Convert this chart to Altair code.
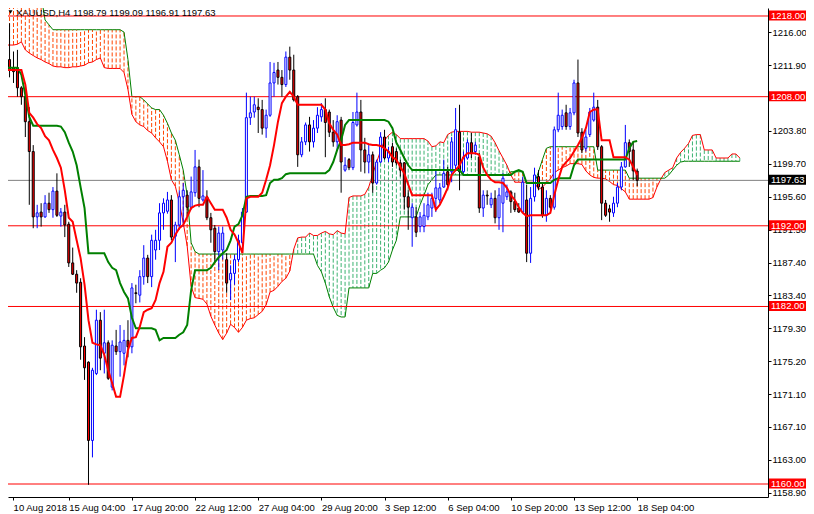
import altair as alt
import pandas as pd

FONT = "Liberation Sans"

# ---------------- data ----------------
opens = [1208.0, 1212.6, 1211.6, 1211.6, 1209.1, 1208.0, 1204.9, 1201.2, 1193.1, 1193.7,
         1193.1, 1194.8, 1194.0, 1196.3, 1193.2, 1193.7, 1192.2, 1187.4, 1186.0, 1185.0,
         1177.1, 1175.1, 1165.4, 1173.7, 1180.3, 1176.2, 1177.5, 1172.0, 1177.1, 1176.4,
         1176.2, 1177.8, 1177.0, 1183.7, 1183.4, 1185.7, 1188.0, 1185.7, 1189.0, 1190.2,
         1193.6, 1193.8, 1195.2, 1190.7, 1192.1, 1195.6, 1195.8, 1194.3, 1196.1, 1199.3,
         1195.2, 1195.6, 1193.0, 1191.7, 1188.8, 1189.0, 1187.8, 1185.3, 1186.1, 1187.8,
         1189.9, 1193.7, 1205.4, 1206.1, 1206.7, 1206.4, 1204.1, 1205.7, 1209.7, 1211.3,
         1210.4, 1209.5, 1212.9, 1211.3, 1208.0, 1200.8, 1202.4, 1204.5, 1202.4, 1204.1,
         1205.5, 1206.4, 1206.1, 1203.6, 1202.4, 1205.1, 1198.9, 1200.2, 1199.2, 1204.5,
         1206.1, 1201.4, 1199.9, 1200.8, 1197.3, 1199.9, 1203.0, 1200.4, 1201.8, 1201.2,
         1199.8, 1199.8, 1195.6, 1193.0, 1193.1, 1191.9, 1191.9, 1193.1, 1194.2, 1195.4,
         1195.2, 1196.8, 1198.7, 1198.7, 1199.5, 1203.6, 1198.7, 1200.4, 1202.3, 1201.2,
         1200.5, 1194.2, 1195.8, 1194.6, 1195.4, 1193.0, 1194.8, 1195.6, 1196.2, 1195.0,
         1194.2, 1193.7, 1195.2, 1188.6, 1195.6, 1198.1, 1196.8, 1193.3, 1195.4, 1194.3,
         1203.9, 1204.3, 1206.0, 1204.3, 1206.0, 1209.7, 1203.6, 1201.6, 1203.3, 1205.1,
         1206.7, 1201.8, 1194.8, 1194.1, 1193.6, 1194.8, 1196.8, 1199.3, 1202.3, 1201.4,
         1198.79]
highs = [1214.4, 1217.1, 1213.6, 1213.8, 1209.3, 1209.1, 1206.7, 1202.0, 1194.6, 1194.8,
         1195.8, 1196.1, 1196.8, 1198.5, 1194.2, 1194.6, 1192.5, 1189.3, 1186.5, 1185.5,
         1178.2, 1175.2, 1174.4, 1181.6, 1181.3, 1181.6, 1177.8, 1177.8, 1179.1, 1179.7,
         1179.1, 1180.3, 1184.9, 1184.7, 1186.5, 1189.6, 1188.4, 1190.9, 1191.5, 1194.8,
         1195.4, 1196.2, 1195.8, 1192.5, 1196.4, 1197.3, 1196.4, 1198.1, 1201.4, 1200.2,
         1198.9, 1196.4, 1193.6, 1192.1, 1191.9, 1191.9, 1188.6, 1187.1, 1188.4, 1190.9,
         1194.2, 1208.5, 1208.0, 1208.0, 1207.8, 1207.6, 1206.4, 1212.3, 1212.2, 1212.3,
         1211.3, 1213.6, 1214.2, 1213.2, 1208.2, 1203.0, 1204.8, 1205.5, 1205.1, 1206.7,
         1207.2, 1207.8, 1206.4, 1205.1, 1205.7, 1205.5, 1200.5, 1200.4, 1206.1, 1208.5,
         1207.6, 1202.9, 1202.0, 1201.2, 1200.2, 1203.6, 1203.9, 1201.8, 1202.3, 1201.6,
         1200.2, 1199.9, 1196.4, 1194.8, 1194.3, 1193.7, 1194.8, 1196.1, 1196.1, 1198.9,
         1197.3, 1200.2, 1199.3, 1203.0, 1206.6, 1207.0, 1201.2, 1202.7, 1203.5, 1202.4,
         1201.0, 1196.4, 1196.4, 1196.1, 1196.4, 1196.7, 1198.5, 1197.1, 1196.4, 1196.1,
         1194.8, 1198.1, 1197.1, 1196.8, 1199.2, 1198.9, 1197.3, 1196.4, 1195.8, 1204.3,
         1208.5, 1206.4, 1207.0, 1206.6, 1210.1, 1212.6, 1204.1, 1203.9, 1206.6, 1208.5,
         1207.6, 1202.0, 1195.2, 1194.6, 1195.6, 1197.3, 1199.9, 1204.5, 1202.7, 1202.4,
         1199.09]
lows = [1207.6, 1210.4, 1209.7, 1208.0, 1207.0, 1203.0, 1194.6, 1191.7, 1191.7, 1191.9,
        1193.0, 1193.6, 1193.0, 1193.1, 1191.9, 1190.6, 1186.9, 1185.9, 1183.7, 1175.4,
        1172.9, 1159.9, 1163.3, 1173.5, 1174.1, 1173.7, 1172.9, 1171.6, 1176.0, 1173.3,
        1174.7, 1175.7, 1176.2, 1182.4, 1182.5, 1184.7, 1184.9, 1184.4, 1187.8, 1189.0,
        1191.5, 1193.5, 1190.2, 1187.5, 1191.5, 1191.9, 1193.1, 1194.0, 1195.6, 1194.3,
        1195.0, 1192.7, 1189.9, 1187.4, 1186.5, 1187.8, 1183.7, 1182.8, 1184.7, 1187.5,
        1189.0, 1193.6, 1204.5, 1205.4, 1203.5, 1203.3, 1202.9, 1205.5, 1208.0, 1209.5,
        1208.0, 1209.2, 1210.1, 1207.4, 1199.3, 1200.5, 1202.0, 1201.2, 1201.7, 1203.5,
        1204.9, 1200.5, 1203.0, 1201.8, 1201.4, 1196.1, 1198.7, 1198.9, 1198.9, 1204.3,
        1198.7, 1198.5, 1198.5, 1196.1, 1197.1, 1199.8, 1200.2, 1199.9, 1199.3, 1199.5,
        1198.1, 1194.0, 1191.5, 1189.4, 1190.6, 1191.2, 1191.2, 1192.7, 1193.1, 1193.7,
        1194.8, 1196.7, 1196.4, 1197.4, 1198.9, 1196.4, 1198.5, 1200.2, 1200.4, 1200.8,
        1193.6, 1193.1, 1194.6, 1194.2, 1192.3, 1191.5, 1191.2, 1195.2, 1193.6, 1193.7,
        1193.6, 1193.6, 1187.5, 1187.4, 1195.0, 1196.4, 1193.0, 1192.5, 1194.0, 1194.0,
        1203.6, 1203.9, 1203.9, 1203.9, 1205.7, 1203.0, 1201.0, 1201.2, 1203.0, 1204.9,
        1201.4, 1192.7, 1193.1, 1192.5, 1193.1, 1194.3, 1196.4, 1199.2, 1199.3, 1197.7,
        1196.91]
closes = [1212.6, 1211.3, 1211.1, 1209.1, 1208.0, 1204.9, 1201.2, 1193.1, 1193.6, 1193.1,
          1194.8, 1194.0, 1196.3, 1193.3, 1193.7, 1192.1, 1187.4, 1186.0, 1184.9, 1177.0,
          1174.4, 1165.4, 1174.1, 1180.3, 1175.6, 1177.5, 1173.1, 1177.2, 1176.4, 1177.6,
          1177.8, 1177.0, 1184.3, 1183.6, 1185.7, 1188.0, 1185.7, 1190.2, 1190.2, 1193.6,
          1194.8, 1195.2, 1190.6, 1192.1, 1195.6, 1196.4, 1194.3, 1196.2, 1199.3, 1195.4,
          1195.7, 1193.0, 1191.5, 1188.8, 1191.1, 1191.1, 1184.9, 1186.1, 1187.8, 1190.2,
          1193.7, 1205.4, 1206.0, 1207.0, 1206.4, 1204.1, 1205.7, 1209.7, 1211.0, 1210.4,
          1209.5, 1212.9, 1211.3, 1207.6, 1200.8, 1202.4, 1204.5, 1202.4, 1204.1, 1205.7,
          1206.4, 1204.8, 1203.6, 1202.4, 1204.9, 1199.9, 1199.5, 1199.2, 1204.8, 1206.1,
          1201.4, 1199.9, 1200.8, 1197.3, 1199.9, 1203.0, 1200.4, 1201.2, 1199.9, 1199.8,
          1198.9, 1195.6, 1194.3, 1194.3, 1191.2, 1193.1, 1193.3, 1194.6, 1195.4, 1196.7,
          1196.7, 1198.5, 1197.1, 1202.4, 1203.9, 1198.7, 1200.5, 1202.3, 1201.0, 1202.0,
          1194.2, 1195.8, 1195.7, 1195.4, 1193.0, 1195.8, 1197.9, 1196.2, 1195.0, 1194.0,
          1193.7, 1197.4, 1188.6, 1195.4, 1198.3, 1196.8, 1193.3, 1195.4, 1194.3, 1203.9,
          1205.7, 1205.7, 1204.3, 1206.0, 1209.7, 1203.5, 1201.4, 1203.0, 1206.1, 1206.7,
          1201.8, 1194.8, 1193.3, 1193.7, 1194.8, 1196.8, 1199.3, 1202.3, 1201.2, 1198.8,
          1197.63]

tenkan = [1211.3, 1211.3, 1211.3, 1211.3, 1211.3, 1209.5, 1206.0, 1205.4, 1204.6, 1204.1,
          1203.1, 1202.6, 1201.4, 1200.4, 1199.2, 1196.4, 1193.0, 1192.5, 1190.2, 1188.0,
          1184.7, 1180.3, 1177.5, 1177.3, 1177.2, 1176.0, 1174.1, 1172.5, 1170.8, 1170.8,
          1173.5, 1176.6, 1178.1, 1178.2, 1179.5, 1181.3, 1181.6, 1181.8, 1182.8, 1184.9,
          1186.3, 1189.4, 1189.9, 1190.9, 1191.7, 1192.1, 1193.1, 1194.2, 1194.5, 1194.6,
          1194.6, 1195.6, 1194.8, 1194.0, 1194.0, 1194.0, 1193.0, 1191.5, 1190.9, 1189.9,
          1188.6, 1195.4, 1195.6, 1195.6, 1195.6, 1196.1, 1197.7, 1199.5, 1202.0, 1204.9,
          1207.2, 1208.0, 1208.6, 1208.0, 1207.0, 1207.0, 1207.0, 1207.0, 1207.0, 1207.0,
          1207.0, 1206.4, 1204.7, 1203.9, 1203.3, 1202.0, 1202.0, 1202.1, 1202.3, 1202.3,
          1202.3, 1202.3, 1202.1, 1202.0, 1202.0, 1201.9, 1201.6, 1201.2, 1200.5, 1200.2,
          1199.3, 1198.5, 1197.1, 1195.8, 1195.8, 1195.8, 1195.8, 1195.8, 1195.8, 1194.0,
          1194.6, 1195.6, 1196.7, 1198.3, 1198.9, 1199.5, 1200.5, 1201.0, 1201.0, 1201.0,
          1200.8, 1199.2, 1198.3, 1197.7, 1197.4, 1197.4, 1197.3, 1196.7, 1195.8, 1195.2,
          1194.3, 1193.6, 1193.2, 1193.3, 1193.3, 1193.3, 1193.3, 1193.3, 1193.6, 1195.8,
          1197.7, 1199.3, 1199.9, 1200.4, 1201.2, 1202.0, 1202.9, 1204.1, 1206.1, 1206.4,
          1206.4, 1202.6, 1202.6, 1202.6, 1200.5, 1200.5, 1200.5, 1200.5, 1200.2, 1199.3,
          1198.3]
kijun = [1211.6, 1211.6, 1211.6, 1211.6, 1210.7, 1208.2, 1205.5, 1204.4, 1204.4, 1204.4,
         1204.4, 1204.4, 1204.4, 1204.4, 1204.3, 1203.6, 1202.3, 1201.2, 1199.5, 1196.8,
         1194.2, 1188.6, 1188.6, 1188.6, 1188.6, 1188.6, 1187.5, 1186.8, 1186.5, 1184.9,
         1183.8, 1183.0, 1180.6, 1179.3, 1179.3, 1179.3, 1179.3, 1179.3, 1179.1, 1177.8,
         1178.1, 1178.1, 1178.1, 1178.1, 1178.5, 1178.8, 1179.7, 1184.0, 1186.5, 1186.5,
         1186.5, 1186.5, 1186.8, 1187.5, 1188.1, 1188.6, 1189.0, 1190.2, 1191.9, 1192.2,
         1193.3, 1195.6, 1195.7, 1195.7, 1195.7, 1195.7, 1195.8, 1197.3, 1197.7, 1197.7,
         1197.9, 1198.4, 1198.5, 1198.5, 1198.5, 1198.5, 1198.5, 1198.5, 1198.5, 1198.5,
         1198.5, 1198.5, 1198.9, 1199.9, 1201.4, 1202.6, 1204.5, 1205.1, 1205.1, 1205.1,
         1205.1, 1205.1, 1205.1, 1205.1, 1205.1, 1205.1, 1205.1, 1204.9, 1204.1, 1202.3,
         1201.4, 1200.4, 1199.5, 1198.9, 1198.9, 1198.9, 1198.9, 1198.9, 1198.9, 1198.9,
         1198.9, 1198.9, 1198.9, 1198.9, 1198.9, 1198.9, 1198.3, 1198.3, 1198.3, 1198.3,
         1198.3, 1198.3, 1198.3, 1198.3, 1198.3, 1198.3, 1198.3, 1198.3, 1198.3, 1198.7,
         1198.9, 1198.7, 1197.3, 1197.3, 1197.3, 1197.3, 1197.3, 1197.3, 1197.3, 1197.7,
         1197.9, 1197.9, 1197.9, 1197.9, 1199.5, 1200.2, 1200.2, 1200.2, 1200.2, 1200.2,
         1200.2, 1200.2, 1200.2, 1200.2, 1200.2, 1200.2, 1200.2, 1200.2, 1201.6, 1202.4,
         1202.5]

senkou_a = [1214.4, 1214.4, 1214.4, 1214.5, 1214.8, 1213.8, 1213.4, 1213.1, 1212.8, 1212.6,
            1212.3, 1212.1, 1211.8, 1211.7, 1211.7, 1211.6, 1211.6, 1211.7, 1211.7, 1211.8,
            1211.9, 1212.2, 1212.3, 1212.6, 1212.8, 1211.6, 1211.5, 1211.5, 1211.5, 1211.5,
            1211.0, 1208.9, 1205.8, 1204.9, 1204.5, 1204.3, 1203.8, 1203.5, 1202.9, 1202.4,
            1201.8, 1200.0, 1197.7, 1196.9, 1194.9, 1192.4, 1189.5, 1184.5, 1183.1, 1183.0,
            1182.9, 1182.3, 1180.8, 1179.7, 1178.7, 1177.9, 1178.7, 1179.8, 1179.4, 1178.8,
            1179.4, 1180.3, 1180.5, 1180.6, 1181.0, 1181.4, 1182.2, 1183.8, 1184.0, 1184.5,
            1185.1, 1185.5, 1186.4, 1189.1, 1190.5, 1190.6, 1190.6, 1191.1, 1190.8, 1190.8,
            1191.1, 1191.3, 1191.0, 1190.9, 1191.4, 1191.1, 1191.0, 1195.5, 1195.7, 1195.7,
            1195.7, 1195.9, 1196.8, 1198.4, 1199.9, 1201.3, 1202.6, 1203.2, 1203.6, 1203.3,
            1202.8, 1202.8, 1202.8, 1202.8, 1202.8, 1202.8, 1202.8, 1202.5, 1201.8, 1201.9,
            1202.4, 1202.3, 1203.3, 1203.6, 1203.7, 1203.7, 1203.7, 1203.7, 1203.6, 1203.6,
            1203.6, 1203.5, 1203.4, 1203.1, 1202.3, 1201.3, 1200.4, 1199.5, 1198.3, 1197.4,
            1197.4, 1197.4, 1197.4, 1197.4, 1197.4, 1196.5, 1196.8, 1197.3, 1197.8, 1198.6,
            1198.9, 1199.2, 1199.4, 1199.7, 1199.7, 1199.7, 1199.6, 1198.8, 1198.3, 1198.0,
            1197.9, 1197.9, 1197.8, 1197.5, 1197.1, 1197.0, 1196.6, 1196.2, 1195.3, 1195.3,
            1195.3, 1195.3, 1195.3, 1195.3, 1195.5, 1196.8, 1197.8, 1198.6, 1198.9, 1199.2,
            1200.4, 1201.1, 1201.6, 1202.2, 1203.2, 1203.3, 1203.3, 1201.4, 1201.4, 1201.4,
            1200.4, 1200.4, 1200.4, 1200.4, 1200.9, 1200.9, 1200.4]
senkou_b = [1220.5, 1220.5, 1220.5, 1220.5, 1220.5, 1220.5, 1220.5, 1220.5, 1220.5, 1220.5,
            1217.5, 1216.9, 1216.3, 1216.3, 1216.3, 1216.3, 1216.3, 1216.3, 1216.3, 1216.3,
            1216.3, 1216.3, 1216.3, 1216.3, 1216.3, 1216.3, 1216.3, 1216.3, 1216.3, 1216.3,
            1216.0, 1212.6, 1208.0, 1208.0, 1208.0, 1207.6, 1207.1, 1206.6, 1206.4, 1206.4,
            1205.7, 1204.7, 1203.5, 1202.6, 1200.8, 1198.9, 1195.8, 1189.9, 1188.8, 1188.5,
            1188.5, 1188.5, 1188.5, 1188.5, 1188.5, 1188.5, 1188.5, 1188.5, 1188.5, 1188.5,
            1188.5, 1188.5, 1188.5, 1188.5, 1188.5, 1188.5, 1188.5, 1188.5, 1188.5, 1188.5,
            1188.5, 1188.5, 1188.5, 1188.5, 1188.5, 1188.5, 1188.5, 1188.5, 1188.5, 1187.1,
            1186.3, 1184.9, 1183.2, 1181.9, 1180.9, 1180.7, 1180.7, 1184.3, 1184.3, 1184.3,
            1184.3, 1184.3, 1184.3, 1186.1, 1186.1, 1186.5, 1186.8, 1187.5, 1189.0, 1190.2,
            1193.1, 1193.1, 1193.1, 1193.1, 1193.1, 1194.6, 1195.8, 1197.1, 1197.7, 1198.3,
            1198.3, 1198.3, 1198.3, 1198.3, 1198.3, 1198.3, 1198.3, 1198.3, 1198.3, 1198.3,
            1198.3, 1198.3, 1198.3, 1198.3, 1198.3, 1198.3, 1198.3, 1198.3, 1198.7, 1198.7,
            1198.7, 1198.7, 1197.3, 1197.3, 1197.3, 1198.7, 1200.2, 1201.6, 1201.8, 1201.8,
            1201.8, 1201.8, 1201.8, 1201.8, 1201.8, 1201.8, 1201.8, 1201.8, 1201.8, 1201.8,
            1198.9, 1198.9, 1198.9, 1198.9, 1198.9, 1198.9, 1198.9, 1198.9, 1197.9, 1197.9,
            1197.9, 1197.9, 1197.9, 1197.9, 1197.9, 1197.9, 1197.9, 1197.9, 1198.3, 1198.9,
            1199.5, 1199.9, 1200.0, 1200.0, 1200.0, 1200.0, 1200.0, 1200.0, 1200.0, 1200.0,
            1200.0, 1200.0, 1200.0, 1200.0, 1200.0, 1200.0, 1200.0]

date_ticks = [1.9, 16, 32, 48, 64, 80, 96, 112, 128, 144, 160]
date_labels = ["10 Aug 2018", "15 Aug 04:00", "17 Aug 20:00", "22 Aug 12:00", "27 Aug 04:00",
               "29 Aug 20:00", "3 Sep 12:00", "6 Sep 04:00", "10 Sep 20:00", "13 Sep 12:00",
               "18 Sep 04:00"]
price_ticks = [1216.00, 1211.90, 1203.80, 1199.70, 1195.60, 1191.50, 1187.40, 1183.40,
               1179.30, 1175.20, 1171.10, 1167.10, 1163.00, 1158.90]
level_lines = [1218.00, 1208.00, 1192.00, 1182.00, 1160.00]
last_price = 1197.63
title_text = "XAUUSD,H4  1198.79 1199.09 1196.91 1197.63"

# ---------------- tables ----------------
candles = pd.DataFrame({"bar": list(range(len(opens))), "open": opens, "high": highs,
                        "low": lows, "close": closes})
up = candles[candles["close"] > candles["open"]]
down = candles[candles["close"] <= candles["open"]]

cloud = pd.DataFrame({"bar": list(range(len(senkou_a))), "a": senkou_a, "b": senkou_b})
cloud_bull = cloud[cloud["a"] >= cloud["b"]]
cloud_bear = cloud[cloud["a"] < cloud["b"]]

lines = pd.DataFrame({"bar": list(range(len(tenkan))), "tenkan": tenkan, "kijun": kijun})
levels = pd.DataFrame({"price": level_lines, "label": ["%.2f" % v for v in level_lines]})
last = pd.DataFrame({"price": [last_price], "label": ["%.2f" % last_price]})
title_df = pd.DataFrame({"text": [title_text]})

# ---------------- scales / axes ----------------
# page is 814 px wide with an 8 px body margin -> 798 px usable
W, H = 760, 489
RIGHT = 38
x_scale = alt.Scale(domain=[1.875, 1.875 + W / 4.0], nice=False, zero=False)
y_scale = alt.Scale(domain=[1158.39, 1218.99], nice=False, zero=False)

labels_js = "[" + ",".join("'%s'" % s for s in date_labels) + "]"
x_axis = alt.Axis(values=date_ticks, labelExpr=labels_js + "[floor(datum.value/16)]",
                  orient="bottom", labelAlign="left", labelBaseline="top", labelFlush=False,
                  labelOverlap=False, tickSize=3, labelPadding=2, grid=False, title=None,
                  domainColor="#000000", tickColor="#000000", labelColor="#000000",
                  labelFont=FONT, labelFontSize=9.5)
y_axis = alt.Axis(values=price_ticks, format=".2f", orient="right", labelOverlap=False,
                  tickSize=3, labelPadding=1, grid=False, title=None,
                  domainColor="#000000", tickColor="#000000", labelColor="#000000",
                  labelFont=FONT, labelFontSize=9.5)


def X():
    return alt.X("bar:Q", scale=x_scale, axis=x_axis)


def Y(field):
    return alt.Y(field + ":Q", scale=y_scale, axis=y_axis)


# ---------------- layers ----------------
hatch_bull = alt.Chart(cloud_bull).mark_rule(color="#3CB371", strokeWidth=1, strokeDash=[4, 2],
                                             clip=True).encode(x=X(), y=Y("a"), y2="b")
hatch_bear = alt.Chart(cloud_bear).mark_rule(color="#FF4500", strokeWidth=1, strokeDash=[4, 2],
                                             clip=True).encode(x=X(), y=Y("a"), y2="b")
span_a = alt.Chart(cloud).mark_line(color="#FF0000", strokeWidth=1, clip=True).encode(x=X(), y=Y("a"))
span_b = alt.Chart(cloud).mark_line(color="#008000", strokeWidth=1, clip=True).encode(x=X(), y=Y("b"))

level_rules = alt.Chart(levels).mark_rule(color="#FF0000", strokeWidth=1).encode(y=Y("price"))
last_rule = alt.Chart(last).mark_rule(color="#808080", strokeWidth=1).encode(y=Y("price"))

wick_up = alt.Chart(up).mark_rule(color="#0000FF", strokeWidth=1, clip=True).encode(
    x=X(), y=Y("low"), y2="high")
wick_down = alt.Chart(down).mark_rule(color="#000000", strokeWidth=1, clip=True).encode(
    x=X(), y=Y("low"), y2="high")
body_up = alt.Chart(up).mark_bar(size=2, fill="#FFFFFF", stroke="#0000FF", strokeWidth=1,
                                 clip=True).encode(x=X(), y=Y("open"), y2="close")
body_down = alt.Chart(down).mark_bar(size=2, fill="#FF0000", stroke="#000000", strokeWidth=1,
                                     clip=True).encode(x=X(), y=Y("open"), y2="close")

kijun_line = alt.Chart(lines).mark_line(color="#008000", strokeWidth=2, clip=True).encode(
    x=X(), y=Y("kijun"))
tenkan_line = alt.Chart(lines).mark_line(color="#FF0000", strokeWidth=2, clip=True).encode(
    x=X(), y=Y("tenkan"))

level_boxes = alt.Chart(levels).mark_rect(color="#FF0000", clip=False, yOffset=-5.5,
                                          y2Offset=4.5).encode(
    x=alt.value(W + 1), x2=alt.value(W + RIGHT), y=Y("price"), y2="price")
level_text = alt.Chart(levels).mark_text(align="left", baseline="middle", color="#FFFFFF",
                                         font=FONT, fontSize=9.5, clip=False).encode(
    x=alt.value(W + 3), y=Y("price"), text="label:N")
last_box = alt.Chart(last).mark_rect(color="#000000", clip=False, yOffset=-5.5,
                                     y2Offset=4.5).encode(
    x=alt.value(W + 1), x2=alt.value(W + RIGHT), y=Y("price"), y2="price")
last_text = alt.Chart(last).mark_text(align="left", baseline="middle", color="#FFFFFF",
                                      font=FONT, fontSize=9.5, clip=False).encode(
    x=alt.value(W + 3), y=Y("price"), text="label:N")

title_mark = alt.Chart(title_df).mark_text(align="left", baseline="middle", color="#000000",
                                           font=FONT, fontSize=9.5).encode(
    x=alt.value(8), y=alt.value(4.5), text="text:N")
title_tri = alt.Chart(title_df).mark_point(shape="triangle-down", filled=True, color="#000000",
                                           size=16, opacity=1).encode(
    x=alt.value(2.5), y=alt.value(4))

chart = alt.layer(
    hatch_bear, hatch_bull, span_a, span_b, level_rules, last_rule,
    wick_up, wick_down, body_up, body_down, kijun_line, tenkan_line,
    level_boxes, level_text, last_box, last_text, title_mark, title_tri
).properties(
    width=W, height=H,
    padding={"left": 0, "top": 0, "right": RIGHT, "bottom": 17},
    autosize=alt.AutoSizeParams(type="none"),
    background="#FFFFFF",
).configure_view(stroke=None)

chart.save("out.html", embed_options={"renderer": "svg", "actions": False})
